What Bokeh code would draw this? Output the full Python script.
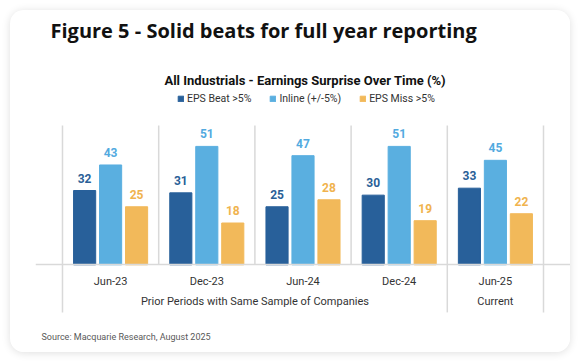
from bokeh.plotting import figure
from bokeh.models import (FactorRange, Range1d, Legend, LegendItem, Label,
                          CategoricalAxis, ColumnDataSource)
from bokeh.transform import dodge
from bokeh.core.properties import value
from bokeh.embed import file_html
from bokeh.resources import INLINE

# ---------------- data ----------------
title_text = "Figure 5 - Solid beats for full year reporting"
subtitle_text = "All Industrials - Earnings Surprise Over Time (%)"
source_text = "Source: Macquarie Research, August 2025"

groups = ["Prior Periods with Same Sample of Companies"] * 4 + ["Current"]
periods = ["Jun-23", "Dec-23", "Jun-24", "Dec-24", "Jun-25"]
series_names = ["EPS Beat >5%", "Inline (+/-5%)", "EPS Miss >5%"]
eps_beat = [32, 31, 25, 30, 33]
inline = [43, 51, 47, 51, 45]
eps_miss = [25, 18, 28, 19, 22]

bar_colors = ["#28609a", "#5aafe0", "#f2b95a"]
label_colors = ["#2a5f97", "#52aadf", "#f0b34e"]
grid_color = "#d9d9d9"

# ---------------- figure ----------------
factors = list(zip(groups, periods))
W, H = 560, 342
x_range = FactorRange(*factors, group_padding=0, factor_padding=0,
                      range_padding=0.28065, range_padding_units="absolute")
y_range = Range1d(-37.77, 109.53)

p = figure(width=W, height=H, x_range=x_range, y_range=y_range,
           x_axis_location=None, y_axis_location=None,
           toolbar_location=None, output_backend="svg",
           min_border_left=25, min_border_right=0,
           min_border_top=0, min_border_bottom=0)
p.outline_line_color = None
p.background_fill_color = "white"
p.border_fill_color = "white"
p.xgrid.visible = False
p.ygrid.visible = False
p.styles = {"border-radius": "14px", "overflow": "hidden",
            "box-shadow": "0 1px 9px rgba(0,0,0,0.13)",
            "margin-left": "10px", "margin-top": "10px"}

src = ColumnDataSource(dict(x=factors, beat=eps_beat, inline=inline, miss=eps_miss,
                            beat_t=[str(v) for v in eps_beat],
                            inline_t=[str(v) for v in inline],
                            miss_t=[str(v) for v in eps_miss]))

# group separator lines
n = len(factors)
full_lines = [0] + [i for i in range(1, n) if groups[i] != groups[i - 1]] + [n]
inner_lines = [i for i in range(1, n) if groups[i] == groups[i - 1]]
y_top = 60
y_bottom_full = -20.5
p.segment(x0=full_lines, y0=[y_bottom_full] * len(full_lines),
          x1=full_lines, y1=[y_top] * len(full_lines),
          line_color=grid_color, line_width=1.5)
p.segment(x0=inner_lines, y0=[0] * len(inner_lines),
          x1=inner_lines, y1=[y_top] * len(inner_lines),
          line_color=grid_color, line_width=1.5)

# axis at y = 0
ax = CategoricalAxis(fixed_location=0)
ax.axis_line_color = grid_color
ax.axis_line_width = 1.5
ax.major_tick_line_color = None
ax.minor_tick_line_color = None
ax.major_label_text_font = "Roboto"
ax.major_label_text_font_size = "11px"
ax.major_label_text_color = "#333333"
ax.major_label_standoff = 4
ax.group_text_font = "Roboto"
ax.group_text_font_size = "11px"
ax.group_text_color = "#333333"
ax.group_text_font_style = "normal"
if hasattr(ax, "separator_line_color"):
    ax.separator_line_color = None
p.add_layout(ax, "below")

offsets = [-0.27, 0.0, 0.27]
fields = ["beat", "inline", "miss"]
items = []
for f, off, c, lc, name in zip(fields, offsets, bar_colors, label_colors, series_names):
    r = p.vbar(x=dodge("x", off, range=p.x_range), top=f, width=0.23, source=src,
               fill_color=c, line_color=c)
    p.text(x=dodge("x", off, range=p.x_range), y=f, text=f + "_t", source=src,
           text_align="center", text_baseline="bottom", y_offset=-8,
           text_font=value("Roboto"), text_font_style="bold",
           text_font_size="12px", text_color=lc)
    items.append(LegendItem(label=name, renderers=[r]))

legend = Legend(items=items, location=(142, 247), orientation="horizontal",
                padding=0, margin=0, spacing=18, label_standoff=3,
                glyph_width=7, glyph_height=7, label_height=12,
                label_text_font="Roboto", label_text_font_size="10.5px",
                label_text_color="#333333", background_fill_alpha=0,
                border_line_color=None)
p.add_layout(legend)

# texts
p.add_layout(Label(x=15, y=322, x_units="screen", y_units="screen", text=title_text,
                   text_font="Open Sans", text_font_style="bold", text_font_size="20px",
                   text_color="#111111", text_baseline="middle", text_align="left"))
p.add_layout(Label(x=269.7, y=272, x_units="screen", y_units="screen", text=subtitle_text,
                   text_font="Roboto", text_font_style="bold", text_font_size="13px",
                   text_color="#111111", text_baseline="middle", text_align="center"))
p.add_layout(Label(x=6, y=16, x_units="screen", y_units="screen", text=source_text,
                   text_font="Roboto", text_font_size="9px",
                   text_color="#595959", text_baseline="middle", text_align="left"))

open("out.html", "w").write(file_html(p, INLINE))
